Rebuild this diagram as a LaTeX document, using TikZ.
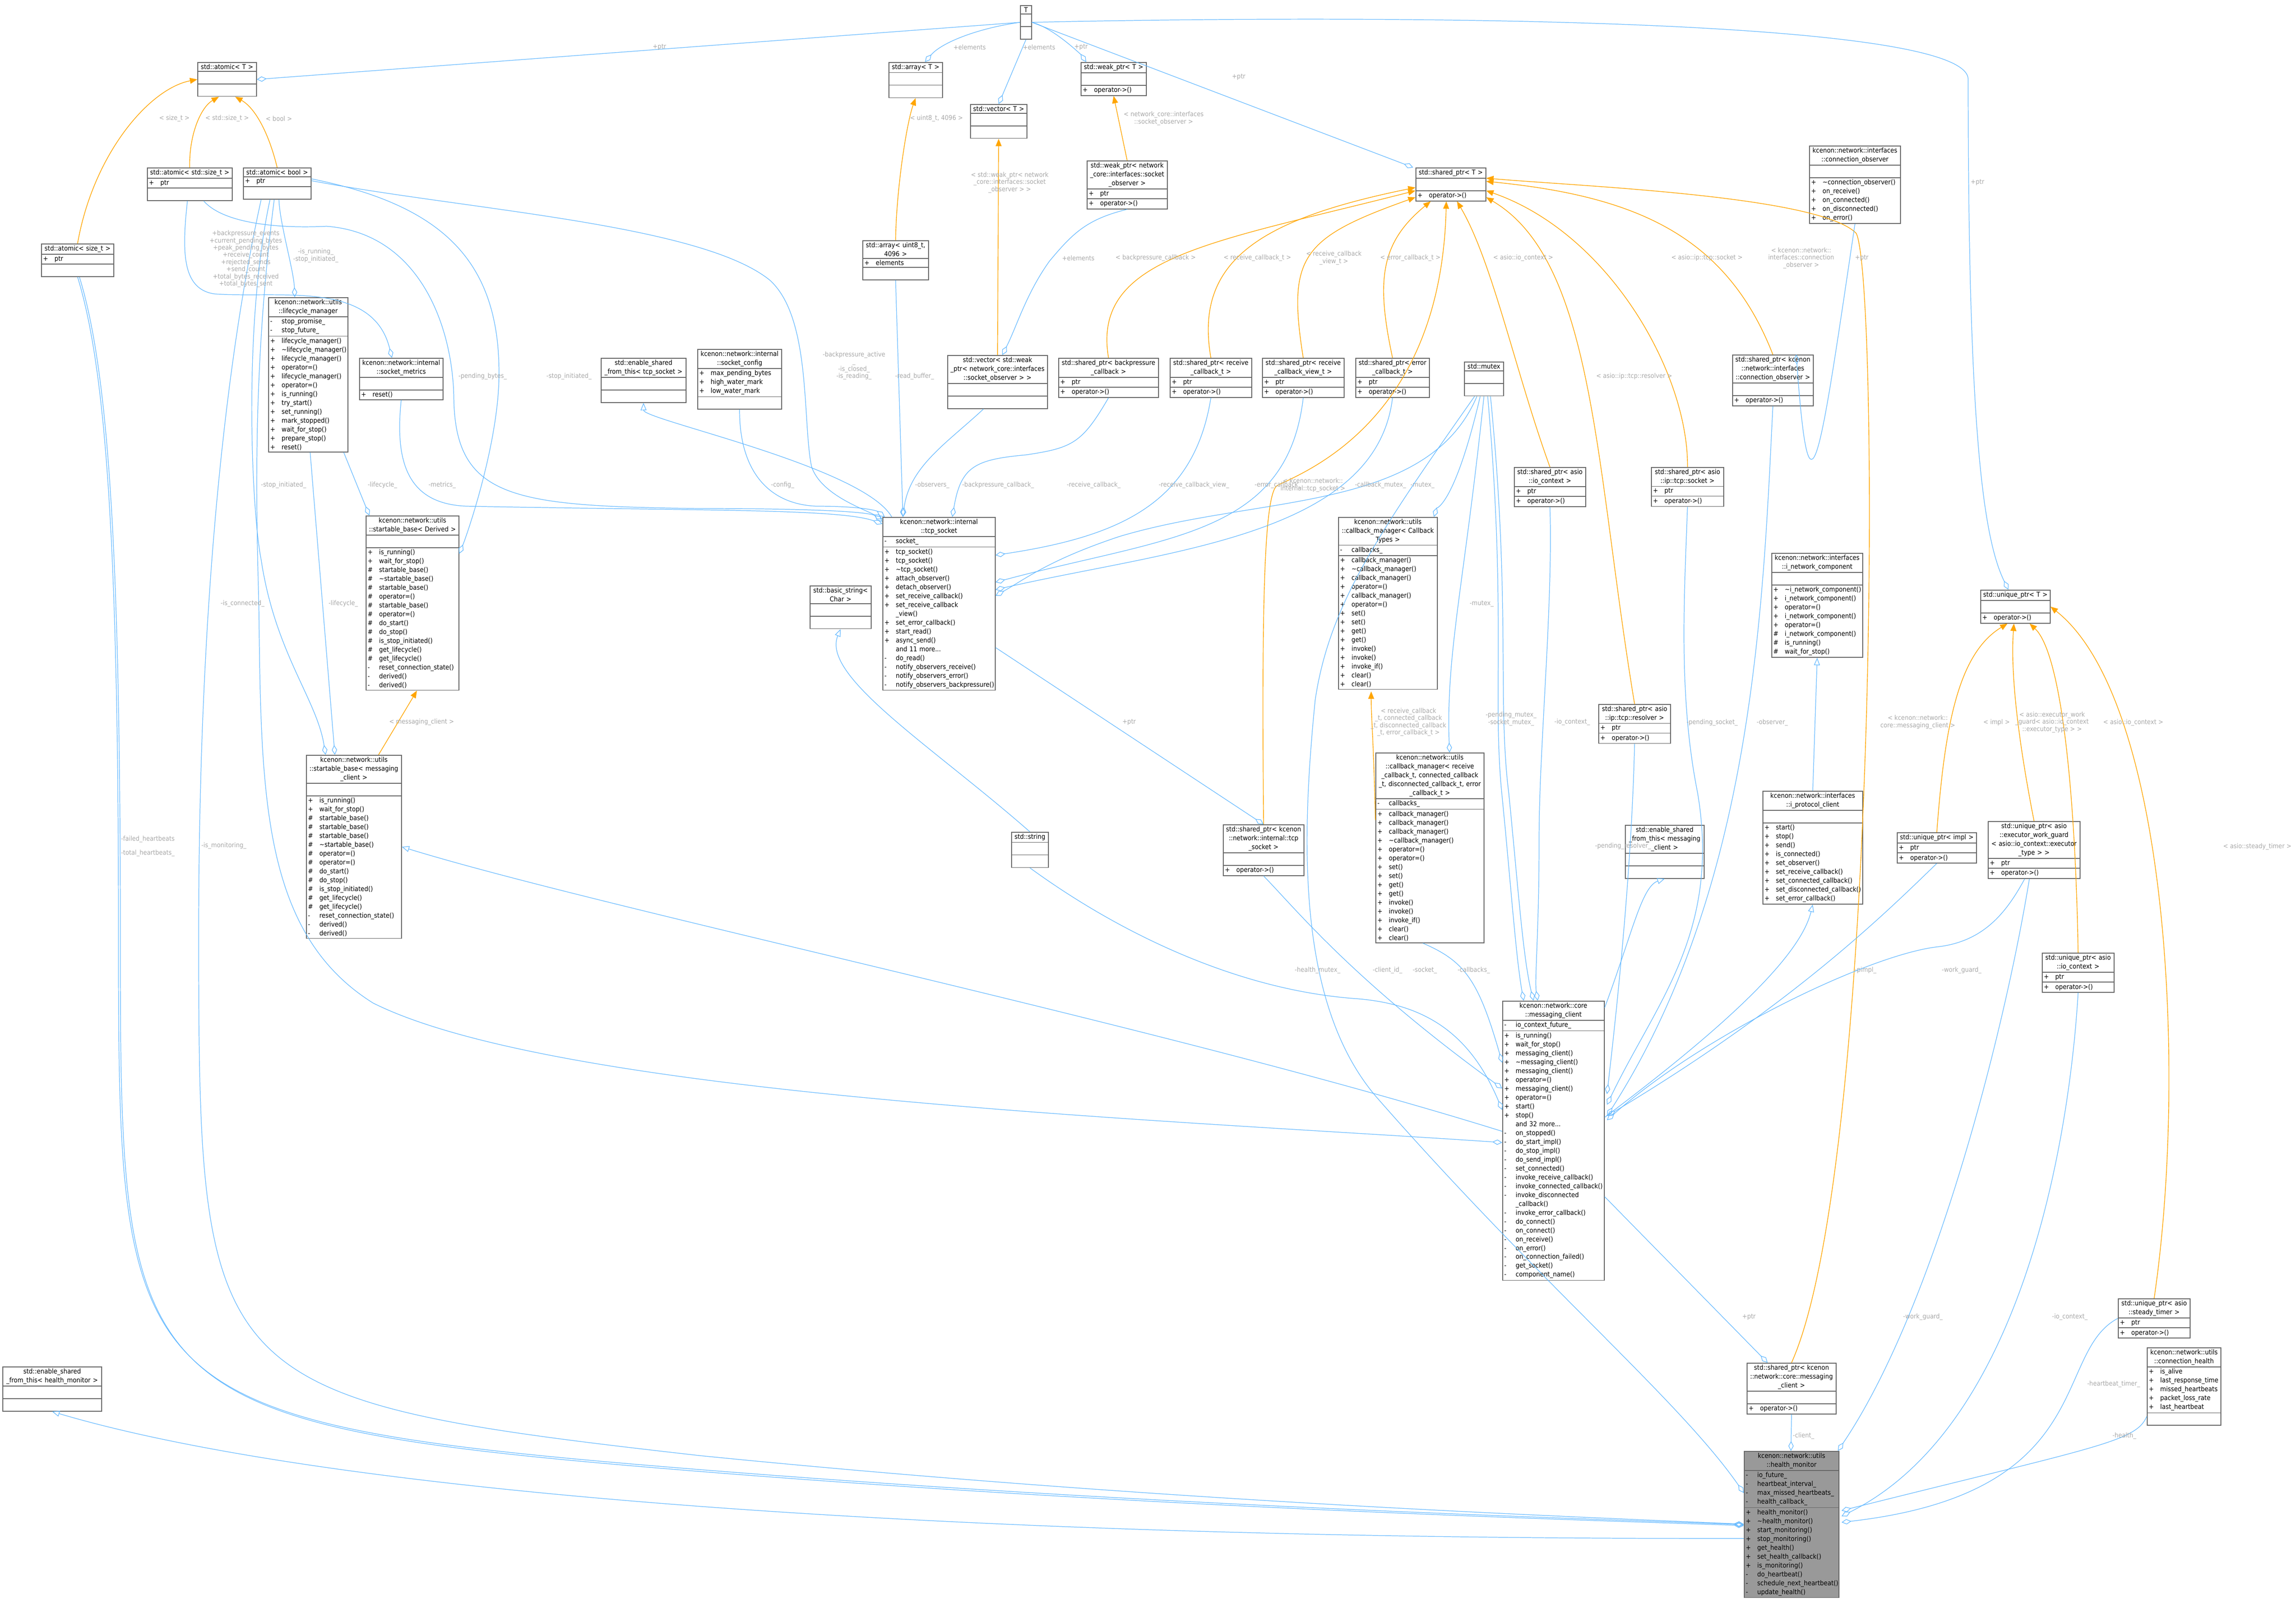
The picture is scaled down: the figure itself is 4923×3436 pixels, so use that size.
\documentclass[tikz,border=0pt]{standalone}
\usepackage{fontspec}
\setmainfont{DejaVu Sans Condensed}
\usetikzlibrary{shapes.multipart,arrows.meta,calc}
\definecolor{edgeb}{HTML}{63B8FF}
\definecolor{orng}{HTML}{FFA500}
\definecolor{boxc}{HTML}{666666}
\definecolor{lblc}{HTML}{A8A8A8}
\definecolor{hmfill}{HTML}{999999}
\newcommand\rw[2]{\mbox{\makebox[7pt][l]{#1}#2}}
\newcommand\tl{\textasciitilde}
\newcommand\lft{\leftskip=0pt\rightskip=0pt plus 1fil\parfillskip=0pt plus 1fil\parindent=0pt\relax}
\newcommand\ctr{\leftskip=0pt plus 1fil\rightskip=0pt plus 1fil\parfillskip=0pt\parindent=0pt\relax}
\newcommand\cls[8][]{%
  \pgfmathsetlengthmacro\clsw{#5*0.01cm-2pt}%
  \node[cls,#1,text width=\clsw] (#2) at (#3,#4) {\ctr #6\par\nodepart{second}\lft #7\par\nodepart{third}\lft #8\par};}
\begin{document}
\begin{tikzpicture}[x=0.01cm,y=-0.01cm,
  cls/.style={rectangle split, rectangle split parts=3, draw=boxc, line width=0.45pt, fill=white,
    inner xsep=1pt, inner ysep=0.9pt, anchor=north west,
    font=\fontsize{4.1}{5.4}\selectfont},
  agg/.style={draw=edgeb, line width=0.35pt, -{Diamond[open,length=6pt,width=3.2pt]}},
  inh/.style={draw=edgeb, line width=0.35pt, -{Triangle[open,length=4.5pt,width=3.6pt]}},
  tpl/.style={draw=orng, line width=0.4pt, -{Triangle[length=4.5pt,width=3.6pt]}},
  lbl/.style={text=lblc, font=\fontsize{4}{4.4}\selectfont, align=center, inner sep=0pt}]
\useasboundingbox (0,0) rectangle (4923,3436);

% ---------------- nodes ----------------
\cls{Tn}{2187}{11}{24}{T}{\strut}{\strut}
\cls{atomT}{423}{133}{126}{std::atomic< T >}{\strut}{\strut}
\cls{atomSz}{315}{359}{182}{std::atomic< std::size\_t >}{\rw{+}{ptr}}{\strut}
\cls{atomB}{521}{359}{145}{std::atomic< bool >}{\rw{+}{ptr}}{\strut}
\cls{atomS}{88}{522}{155}{std::atomic< size\_t >}{\rw{+}{ptr}}{\strut}
\cls{lcm}{575}{637}{170}{kcenon::network::utils\\::lifecycle\_manager}{\rw{-}{stop\_promise\_}\\\rw{-}{stop\_future\_}}{\rw{+}{lifecycle\_manager()}\\\rw{+}{\tl lifecycle\_manager()}\\\rw{+}{lifecycle\_manager()}\\\rw{+}{operator=()}\\\rw{+}{lifecycle\_manager()}\\\rw{+}{operator=()}\\\rw{+}{is\_running()}\\\rw{+}{try\_start()}\\\rw{+}{set\_running()}\\\rw{+}{mark\_stopped()}\\\rw{+}{wait\_for\_stop()}\\\rw{+}{prepare\_stop()}\\\rw{+}{reset()}}
\cls{smet}{770}{767}{179}{kcenon::network::internal\\::socket\_metrics}{\strut}{\rw{+}{reset()}}
\cls{sbD}{784}{1105}{199}{kcenon::network::utils\\::startable\_base< Derived >}{\strut}{\rw{+}{is\_running()}\\\rw{+}{wait\_for\_stop()}\\\rw{\#}{startable\_base()}\\\rw{\#}{\tl startable\_base()}\\\rw{\#}{startable\_base()}\\\rw{\#}{operator=()}\\\rw{\#}{startable\_base()}\\\rw{\#}{operator=()}\\\rw{\#}{do\_start()}\\\rw{\#}{do\_stop()}\\\rw{\#}{is\_stop\_initiated()}\\\rw{\#}{get\_lifecycle()}\\\rw{\#}{get\_lifecycle()}\\\rw{-}{reset\_connection\_state()}\\\rw{-}{derived()}\\\rw{-}{derived()}}
\cls{smc}{656}{1618}{204}{kcenon::network::utils\\::startable\_base< messaging\\\_client >}{\strut}{\rw{+}{is\_running()}\\\rw{+}{wait\_for\_stop()}\\\rw{\#}{startable\_base()}\\\rw{\#}{startable\_base()}\\\rw{\#}{startable\_base()}\\\rw{\#}{\tl startable\_base()}\\\rw{\#}{operator=()}\\\rw{\#}{operator=()}\\\rw{\#}{do\_start()}\\\rw{\#}{do\_stop()}\\\rw{\#}{is\_stop\_initiated()}\\\rw{\#}{get\_lifecycle()}\\\rw{\#}{get\_lifecycle()}\\\rw{-}{reset\_connection\_state()}\\\rw{-}{derived()}\\\rw{-}{derived()}}
\cls{esTcp}{1288}{767}{182}{std::enable\_shared\\\_from\_this< tcp\_socket >}{\strut}{\strut}
\cls{sconf}{1495}{748}{180}{kcenon::network::internal\\::socket\_config}{\rw{+}{max\_pending\_bytes}\\\rw{+}{high\_water\_mark}\\\rw{+}{low\_water\_mark}}{\strut}
\cls{arrT}{1905}{133}{115}{std::array< T >}{\strut}{\strut}
\cls{vecT}{2080}{223}{121}{std::vector< T >}{\strut}{\strut}
\cls{arrU}{1849}{515}{141}{std::array< uint8\_t,\\4096 >}{\rw{+}{elements}}{\strut}
\cls{vecW}{2031}{761}{214}{std::vector< std::weak\\\_ptr< network\_core::interfaces\\::socket\_observer > >}{\strut}{\strut}
\cls{wpT}{2317}{133}{140}{std::weak\_ptr< T >}{\strut}{\rw{+}{operator->()}}
\cls{wpS}{2330}{344}{172}{std::weak\_ptr< network\\\_core::interfaces::socket\\\_observer >}{\rw{+}{ptr}}{\rw{+}{operator->()}}
\cls{spT}{3035}{359}{150}{std::shared\_ptr< T >}{\strut}{\rw{+}{operator->()}}
\cls{spBp}{2269}{767}{214}{std::shared\_ptr< backpressure\\\_callback >}{\rw{+}{ptr}}{\rw{+}{operator->()}}
\cls{spRc}{2508}{767}{175}{std::shared\_ptr< receive\\\_callback\_t >}{\rw{+}{ptr}}{\rw{+}{operator->()}}
\cls{spRv}{2706}{767}{175}{std::shared\_ptr< receive\\\_callback\_view\_t >}{\rw{+}{ptr}}{\rw{+}{operator->()}}
\cls{spEc}{2906}{767}{158}{std::shared\_ptr< error\\\_callback\_t >}{\rw{+}{ptr}}{\rw{+}{operator->()}}
\cls{mtx}{3139}{775}{84}{std::mutex}{\strut}{\strut}
\cls{cobs}{3879}{312}{195}{kcenon::network::interfaces\\::connection\_observer}{\strut}{\rw{+}{\tl connection\_observer()}\\\rw{+}{on\_receive()}\\\rw{+}{on\_connected()}\\\rw{+}{on\_disconnected()}\\\rw{+}{on\_error()}}
\cls{spCo}{3714}{760}{173}{std::shared\_ptr< kcenon\\::network::interfaces\\::connection\_observer >}{\strut}{\rw{+}{operator->()}}
\cls{spIo}{3246}{1001}{153}{std::shared\_ptr< asio\\::io\_context >}{\rw{+}{ptr}}{\rw{+}{operator->()}}
\cls{spSk}{3540}{1001}{155}{std::shared\_ptr< asio\\::ip::tcp::socket >}{\rw{+}{ptr}}{\rw{+}{operator->()}}
\cls{tcp}{1892}{1108}{241}{kcenon::network::internal\\::tcp\_socket}{\rw{-}{socket\_}}{\rw{+}{tcp\_socket()}\\\rw{+}{tcp\_socket()}\\\rw{+}{\tl tcp\_socket()}\\\rw{+}{attach\_observer()}\\\rw{+}{detach\_observer()}\\\rw{+}{set\_receive\_callback()}\\\rw{+}{set\_receive\_callback}\\\rw{}{\_view()}\\\rw{+}{set\_error\_callback()}\\\rw{+}{start\_read()}\\\rw{+}{async\_send()}\\\rw{}{and 11 more...}\\\rw{-}{do\_read()}\\\rw{-}{notify\_observers\_receive()}\\\rw{-}{notify\_observers\_error()}\\\rw{-}{notify\_observers\_backpressure()}}
\cls{bstr}{1736}{1255}{131}{std::basic\_string<\\Char >}{\strut}{\strut}
\cls{cbmT}{2869}{1108}{212}{kcenon::network::utils\\::callback\_manager< Callback\\Types >}{\rw{-}{callbacks\_}}{\rw{+}{callback\_manager()}\\\rw{+}{\tl callback\_manager()}\\\rw{+}{callback\_manager()}\\\rw{+}{operator=()}\\\rw{+}{callback\_manager()}\\\rw{+}{operator=()}\\\rw{+}{set()}\\\rw{+}{set()}\\\rw{+}{get()}\\\rw{+}{get()}\\\rw{+}{invoke()}\\\rw{+}{invoke()}\\\rw{+}{invoke\_if()}\\\rw{+}{clear()}\\\rw{+}{clear()}}
\cls{cbmR}{2949}{1613}{232}{kcenon::network::utils\\::callback\_manager< receive\\\_callback\_t, connected\_callback\\\_t, disconnected\_callback\_t, error\\\_callback\_t >}{\rw{-}{callbacks\_}}{\rw{+}{callback\_manager()}\\\rw{+}{callback\_manager()}\\\rw{+}{callback\_manager()}\\\rw{+}{\tl callback\_manager()}\\\rw{+}{operator=()}\\\rw{+}{operator=()}\\\rw{+}{set()}\\\rw{+}{set()}\\\rw{+}{get()}\\\rw{+}{get()}\\\rw{+}{invoke()}\\\rw{+}{invoke()}\\\rw{+}{invoke\_if()}\\\rw{+}{clear()}\\\rw{+}{clear()}}
\cls{str}{2168}{1783}{79}{std::string}{\strut}{\strut}
\cls{spTcp}{2622}{1767}{173}{std::shared\_ptr< kcenon\\::network::internal::tcp\\\_socket >}{\strut}{\rw{+}{operator->()}}
\cls{spRs}{3427}{1509}{154}{std::shared\_ptr< asio\\::ip::tcp::resolver >}{\rw{+}{ptr}}{\rw{+}{operator->()}}
\cls{inc}{3798}{1185}{195}{kcenon::network::interfaces\\::i\_network\_component}{\strut}{\rw{+}{\tl i\_network\_component()}\\\rw{+}{i\_network\_component()}\\\rw{+}{operator=()}\\\rw{+}{i\_network\_component()}\\\rw{+}{operator=()}\\\rw{\#}{i\_network\_component()}\\\rw{\#}{is\_running()}\\\rw{\#}{wait\_for\_stop()}}
\cls{esMc}{3484}{1768}{169}{std::enable\_shared\\\_from\_this< messaging\\\_client >}{\strut}{\strut}
\cls{ipc}{3779}{1695}{214}{kcenon::network::interfaces\\::i\_protocol\_client}{\strut}{\rw{+}{start()}\\\rw{+}{stop()}\\\rw{+}{send()}\\\rw{+}{is\_connected()}\\\rw{+}{set\_observer()}\\\rw{+}{set\_receive\_callback()}\\\rw{+}{set\_connected\_callback()}\\\rw{+}{set\_disconnected\_callback()}\\\rw{+}{set\_error\_callback()}}
\cls{upT}{4246}{1264}{149}{std::unique\_ptr< T >}{\strut}{\rw{+}{operator->()}}
\cls{upImpl}{4067}{1784}{170}{std::unique\_ptr< impl >}{\rw{+}{ptr}}{\rw{+}{operator->()}}
\cls{upWg}{4262}{1760}{197}{std::unique\_ptr< asio\\::executor\_work\_guard\\< asio::io\_context::executor\\\_type > >}{\rw{+}{ptr}}{\rw{+}{operator->()}}
\cls{upIo}{4378}{2042}{154}{std::unique\_ptr< asio\\::io\_context >}{\rw{+}{ptr}}{\rw{+}{operator->()}}
\cls{mc}{3221}{2145}{218}{kcenon::network::core\\::messaging\_client}{\rw{-}{io\_context\_future\_}}{\rw{+}{is\_running()}\\\rw{+}{wait\_for\_stop()}\\\rw{+}{messaging\_client()}\\\rw{+}{\tl messaging\_client()}\\\rw{+}{messaging\_client()}\\\rw{+}{operator=()}\\\rw{+}{messaging\_client()}\\\rw{+}{operator=()}\\\rw{+}{start()}\\\rw{+}{stop()}\\\rw{}{and 32 more...}\\\rw{-}{on\_stopped()}\\\rw{-}{do\_start\_impl()}\\\rw{-}{do\_stop\_impl()}\\\rw{-}{do\_send\_impl()}\\\rw{-}{set\_connected()}\\\rw{-}{invoke\_receive\_callback()}\\\rw{-}{invoke\_connected\_callback()}\\\rw{-}{invoke\_disconnected}\\\rw{}{\_callback()}\\\rw{-}{invoke\_error\_callback()}\\\rw{-}{do\_connect()}\\\rw{-}{on\_connect()}\\\rw{-}{on\_receive()}\\\rw{-}{on\_error()}\\\rw{-}{on\_connection\_failed()}\\\rw{-}{get\_socket()}\\\rw{-}{component\_name()}}
\cls{spMc}{3745}{2921}{191}{std::shared\_ptr< kcenon\\::network::core::messaging\\\_client >}{\strut}{\rw{+}{operator->()}}
\cls[fill=hmfill]{hm}{3739}{3110}{203}{kcenon::network::utils\\::health\_monitor}{\rw{-}{io\_future\_}\\\rw{-}{heartbeat\_interval\_}\\\rw{-}{max\_missed\_heartbeats\_}\\\rw{-}{health\_callback\_}}{\rw{+}{health\_monitor()}\\\rw{+}{\tl health\_monitor()}\\\rw{+}{start\_monitoring()}\\\rw{+}{stop\_monitoring()}\\\rw{+}{get\_health()}\\\rw{+}{set\_health\_callback()}\\\rw{+}{is\_monitoring()}\\\rw{-}{do\_heartbeat()}\\\rw{-}{schedule\_next\_heartbeat()}\\\rw{-}{update\_health()}}
\cls{upSt}{4541}{2783}{154}{std::unique\_ptr< asio\\::steady\_timer >}{\rw{+}{ptr}}{\rw{+}{operator->()}}
\cls{chl}{4603}{2888}{158}{kcenon::network::utils\\::connection\_health}{\rw{+}{is\_alive}\\\rw{+}{last\_response\_time}\\\rw{+}{missed\_heartbeats}\\\rw{+}{packet\_loss\_rate}\\\rw{+}{last\_heartbeat}}{\strut}
\cls{esHm}{5}{2929}{212}{std::enable\_shared\\\_from\_this< health\_monitor >}{\strut}{\strut}

% ---------------- template instantiation (orange) ----------------
\draw[tpl] (atomS.north) .. controls (200,330) and (320,190) .. (atomT.west);
\draw[tpl] (atomSz.north) .. controls (405,290) and (430,230) .. (atomT.245);
\draw[tpl] (atomB.north) .. controls (575,280) and (545,230) .. (atomT.295);
\draw[tpl] (arrU.north) .. controls (1922,400) and (1945,260) .. (arrT.south);
\draw[tpl] (vecW.north) -- (vecT.south);
\draw[tpl] (wpS.north) -- (wpT.south);
\draw[tpl] (spBp.north) .. controls (2340,550) and (2600,520) .. (spT.190);
\draw[tpl] (spRc.north) .. controls (2560,560) and (2700,470) .. (spT.185);
\draw[tpl] (spRv.north) .. controls (2760,550) and (2790,510) .. (spT.200);
\draw[tpl] (spEc.north) .. controls (2950,600) and (2960,520) .. (spT.220);
\draw[tpl] (spTcp.north) .. controls (2705,1300) and (2710,1050) .. (2740,1040) .. controls (2800,1010) and (3090,900) .. (spT.255);
\draw[tpl] (spIo.north) .. controls (3250,800) and (3200,560) .. (spT.290);
\draw[tpl] (spRs.north) .. controls (3420,1000) and (3420,560) .. (spT.340);
\draw[tpl] (spSk.north) .. controls (3620,800) and (3450,500) .. (spT.350);
\draw[tpl] (spCo.north) .. controls (3700,500) and (3500,420) .. (spT.5);
\draw[tpl] (spMc.north) .. controls (4030,2500) and (4030,600) .. (3980,500) .. controls (3900,420) and (3400,400) .. (spT.10);
\draw[tpl] (upImpl.north) .. controls (4170,1550) and (4200,1400) .. (upT.245);
\draw[tpl] (upWg.north) .. controls (4330,1600) and (4310,1450) .. (upT.265);
\draw[tpl] (upIo.north) .. controls (4450,1700) and (4420,1400) .. (upT.310);
\draw[tpl] (upSt.north) .. controls (4690,2300) and (4650,1500) .. (upT.east);
\draw[tpl] (cbmR.153) .. controls (2945,1580) and (2940,1540) .. (2940,1482);
\draw[tpl] ($(smc.north east)+(-50,0)$) -- ($(sbD.south west)+(110,0)$);
\node[lbl] (la1) at (374,254) {< size\_t >};
\node[lbl] (la2) at (487,254) {< std::size\_t >};
\node[lbl] (la3) at (598,254) {< bool >};
\node[lbl] (la4) at (2008,254) {< uint8\_t, 4096 >};
\node[lbl] (la5) at (2165,391) {< std::weak\_ptr< network\\\_core::interfaces::socket\\\_observer > >};
\node[lbl] (la6) at (2495,254) {< network\_core::interfaces\\::socket\_observer >};
\node[lbl] (la7) at (2478,553) {< backpressure\_callback >};
\node[lbl] (la8) at (2696,553) {< receive\_callback\_t >};
\node[lbl] (la9) at (2860,553) {< receive\_callback\\\_view\_t >};
\node[lbl] (la10) at (3024,553) {< error\_callback\_t >};
\node[lbl] (la11) at (3266,553) {< asio::io\_context >};
\node[lbl] (la12) at (3660,553) {< asio::ip::tcp::socket >};
\node[lbl] (la13) at (3862,553) {< kcenon::network::\\interfaces::connection\\\_observer >};
\node[lbl] (la14) at (3504,807) {< asio::ip::tcp::resolver >};
\node[lbl] (la15) at (2815,1040) {< kcenon::network::\\internal::tcp\_socket >};
\node[lbl] (la16) at (4112,1548) {< kcenon::network::\\core::messaging\_client >};
\node[lbl] (la17) at (4281,1549) {< impl >};
\node[lbl] (la18) at (4400,1548) {< asio::executor\_work\\\_guard< asio::io\_context\\::executor\_type > >};
\node[lbl] (la19) at (4574,1549) {< asio::io\_context >};
\node[lbl] (la20) at (4840,1815) {< asio::steady\_timer >};
\node[lbl] (la21) at (3020,1548) {< receive\_callback\\\_t, connected\_callback\\\_t, disconnected\_callback\\\_t, error\_callback\_t >};
\node[lbl] (la22) at (904,1548) {< messaging\_client >};

% ---------------- inheritance ----------------
\draw[inh] ($(tcp.north west)+(20,0)$) .. controls (1850,1000) and (1380,900) .. (esTcp.south);
\draw[inh] (str.north) .. controls (2000,1600) and (1760,1450) .. (bstr.south);
\draw[inh] ($(mc.north west)+(0,280)$) .. controls (2500,2200) and (1300,1950) .. (smc.east);
\draw[inh] ($(mc.north east)+(0,15)$) .. controls (3500,2000) and (3520,1900) .. (esMc.south);
\draw[inh] ($(mc.north east)+(0,250)$) .. controls (3700,2200) and (3860,2050) .. (ipc.south);
\draw[inh] (ipc.north) -- (inc.south);
\draw[inh] ($(hm.west)+(0,30)$) .. controls (2000,3300) and (700,3200) .. (esHm.south);

% ---------------- aggregation (blue) ----------------
\draw[agg] (Tn.west) -- (atomT.east);
\draw[agg] (Tn.west) .. controls (2100,60) and (2020,90) .. ($(arrT.north)+(20,0)$);
\draw[agg] (Tn.south) -- (vecT.north);
\draw[agg] (Tn.east) .. controls (2260,60) and (2320,120) .. ($(wpT.north west)+(12,0)$);
\draw[agg] (Tn.east) -- ($(spT.north west)+(-5,0)$);
\draw[agg] (Tn.east) .. controls (3000,30) and (4220,40) .. (4220,170) .. controls (4220,900) and (4250,1150) .. ($(upT.north)+(-15,0)$);
\node[lbl] (lb1) at (1414,101) {+ptr};
\node[lbl] (lb2) at (2079,101) {+elements};
\node[lbl] (lb3) at (2228,101) {+elements};
\node[lbl] (lb4) at (2318,101) {+ptr};
\node[lbl] (lb5) at (2656,165) {+ptr};
\node[lbl] (lb6) at (4240,391) {+ptr};

\draw[agg] (atomS.south) .. controls (230,800) and (254,1200) .. (254,2000) .. controls (254,3000) and (260,3050) .. (1500,3150) .. controls (2500,3230) and (3400,3255) .. ($(hm.north west)+(0,158)$);
\draw[agg] ($(atomS.south)+(4,0)$) .. controls (234,800) and (258,1200) .. (258,2000) .. controls (258,3004) and (264,3054) .. (1500,3154) .. controls (2500,3234) and (3400,3258) .. ($(hm.north west)+(0,160)$);
\node[lbl] (lb7) at (317,1799) {-failed\_heartbeats};
\node[lbl] (lb7b) at (317,1829) {-total\_heartbeats\_};
\draw[agg] ($(atomB.south west)+(39,0)$) .. controls (500,700) and (426,1200) .. (426,2000) .. controls (426,2970) and (440,3000) .. (1500,3120) .. controls (2500,3220) and (3400,3252) .. ($(hm.north west)+(0,157)$);
\node[lbl] (lb8) at (480,1813) {-is\_monitoring\_};
\draw[agg] ($(atomB.south west)+(77,0)$) .. controls (600,480) and (630,580) .. ($(lcm.north west)+(57,0)$);
\node[lbl] (lb9) at (677,548) {-is\_running\_\\-stop\_initiated\_};
\draw[agg] ($(atomB.south west)+(58,0)$) .. controls (520,700) and (540,1100) .. (560,1200) .. controls (590,1400) and (680,1500) .. ($(smc.north west)+(42,0)$);
\node[lbl] (lb10) at (608,1040) {-stop\_initiated\_};
\draw[agg] ($(atomB.south west)+(67,0)$) .. controls (540,800) and (550,1100) .. (555,1300) .. controls (560,1700) and (560,2000) .. (800,2150) .. controls (1200,2350) and (2500,2400) .. ($(mc.north west)+(0,304)$);
\node[lbl] (lb11) at (520,1294) {-is\_connected\_};
\draw[agg] ($(atomB.east)+(0,-10)$) .. controls (950,440) and (1070,560) .. (1070,800) .. controls (1070,950) and (1000,1150) .. ($(sbD.north east)+(0,82)$);
\node[lbl] (lb12) at (1220,807) {-stop\_initiated\_};
\draw[agg] ($(atomB.east)+(0,-6)$) .. controls (1000,450) and (1500,480) .. (1650,600) .. controls (1740,680) and (1720,900) .. (1740,1000) .. controls (1760,1060) and (1850,1090) .. ($(tcp.north west)+(0,5)$);
\node[lbl] (lb13) at (1831,784) {-backpressure\_active\\\_\\-is\_closed\_\\-is\_reading\_};
\draw[agg] ($(atomSz.south)+(-5,0)$) .. controls (390,540) and (390,620) .. (460,630) .. controls (600,640) and (800,600) .. ($(smet.north)+(-20,0)$);
\node[lbl] (lb14) at (527,555) {+backpressure\_events\\+current\_pending\_bytes\\+peak\_pending\_bytes\\+receive\_count\\+rejected\_sends\\+send\_count\\+total\_bytes\_received\\+total\_bytes\_sent};
\draw[agg] ($(atomSz.south)+(30,0)$) .. controls (480,480) and (600,490) .. (700,485) .. controls (900,500) and (970,700) .. (973,850) .. controls (975,1070) and (1100,1085) .. (1500,1090) .. controls (1800,1090) and (1870,1100) .. ($(tcp.north west)+(0,10)$);
\node[lbl] (lb15) at (1035,807) {-pending\_bytes\_};
\draw[agg] ($(lcm.south west)+(162,0)$) -- ($(sbD.north west)+(8,0)$);
\node[lbl] (lb16) at (820,1040) {-lifecycle\_};
\draw[agg] ($(lcm.south west)+(90,0)$) -- ($(smc.north west)+(62,0)$);
\node[lbl] (lb17) at (736,1294) {-lifecycle\_};
\draw[agg] (smet.south) .. controls (845,1000) and (880,1080) .. (1000,1085) .. controls (1500,1095) and (1800,1090) .. ($(tcp.north west)+(0,15)$);
\node[lbl] (lb18) at (948,1040) {-metrics\_};
\draw[agg] (sconf.south) .. controls (1585,1000) and (1640,1080) .. (1750,1085) .. controls (1850,1085) and (1880,1095) .. ($(tcp.north west)+(5,0)$);
\node[lbl] (lb19) at (1678,1040) {-config\_};
\draw[agg] (arrU.south) -- ($(tcp.north west)+(44,0)$);
\node[lbl] (lb20) at (1961,807) {-read\_buffer\_};
\draw[agg] ($(vecW.south)+(-30,0)$) .. controls (2030,950) and (1950,1000) .. ($(tcp.north west)+(44,0)$);
\node[lbl] (lb21) at (1999,1040) {-observers\_};
\draw[agg] (spBp.south) .. controls (2320,950) and (2300,960) .. (2200,975) .. controls (2090,985) and (2060,1000) .. ($(tcp.north west)+(150,0)$);
\node[lbl] (lb22) at (2140,1040) {-backpressure\_callback\_};
\draw[agg] (spRc.south) .. controls (2560,1080) and (2400,1150) .. ($(tcp.north east)+(0,82)$);
\node[lbl] (lb23) at (2345,1040) {-receive\_callback\_};
\draw[agg] (spRv.south) .. controls (2760,1150) and (2500,1150) .. ($(tcp.north east)+(0,140)$);
\node[lbl] (lb24) at (2560,1040) {-receive\_callback\_view\_};
\draw[agg] (spEc.south) .. controls (2950,1150) and (2500,1180) .. ($(tcp.north east)+(0,156)$);
\node[lbl] (lb25) at (2740,1040) {-error\_callback\_};
\draw[agg] ($(mtx.south)+(-15,0)$) .. controls (3060,1100) and (2700,1060) .. (2400,1150) .. controls (2250,1200) and (2200,1240) .. ($(tcp.north east)+(0,169)$);
\node[lbl] (lb26) at (2960,1040) {-callback\_mutex\_};
\draw[agg] ($(mtx.south)+(-8,0)$) .. controls (3120,1080) and (3080,1090) .. ($(cbmT.north east)+(-8,0)$);
\node[lbl] (lb27) at (3050,1040) {-mutex\_};
\draw[agg] ($(mtx.south)+(0,0)$) .. controls (3140,1250) and (3100,1400) .. ($(cbmR.north west)+(159,0)$);
\node[lbl] (lb28) at (3177,1294) {-mutex\_};
\draw[agg] ($(mtx.south)+(8,0)$) .. controls (3230,1300) and (3200,1500) .. (3220,1700) .. controls (3240,1900) and (3250,2050) .. ($(mc.north west)+(46,0)$);
\draw[agg] ($(mtx.south)+(14,0)$) .. controls (3240,1300) and (3210,1500) .. (3235,1700) .. controls (3255,1900) and (3265,2050) .. ($(mc.north west)+(67,0)$);
\node[lbl] (lb29) at (3240,1541) {-pending\_mutex\_\\-socket\_mutex\_};
\draw[agg] ($(mtx.south)+(-20,0)$) .. controls (2950,1150) and (2850,1300) .. (2820,1500) .. controls (2790,1800) and (2780,2150) .. (2950,2350) .. controls (3300,2750) and (3600,3000) .. ($(hm.north west)+(0,90)$);
\node[lbl] (lb30) at (2825,2080) {-health\_mutex\_};
\draw[agg] (wpS.south) .. controls (2330,470) and (2300,500) .. (2250,560) .. controls (2200,630) and (2180,700) .. ($(vecW.north west)+(118,0)$);
\node[lbl] (lb31) at (2312,553) {+elements};
\draw[agg] ($(tcp.north east)+(0,280)$) -- (spTcp.north);
\node[lbl] (lb32) at (2421,1548) {+ptr};
\draw[agg] (spTcp.south) .. controls (2780,1950) and (2900,2100) .. ($(mc.north west)+(0,188)$);
\node[lbl] (lb33) at (3055,2080) {-socket\_};
\draw[agg] (str.south) .. controls (2400,2000) and (2650,2120) .. (2900,2140) .. controls (3050,2150) and (3150,2210) .. ($(mc.north west)+(0,234)$);
\node[lbl] (lb34) at (2975,2080) {-client\_id\_};
\draw[agg] ($(cbmR.south)+(-15,0)$) .. controls (3140,2060) and (3170,2100) .. ($(mc.north west)+(0,133)$);
\node[lbl] (lb35) at (3160,2080) {-callbacks\_};
\draw[agg] (spIo.south) .. controls (3330,1300) and (3300,1600) .. (3300,1800) .. controls (3300,2000) and (3290,2100) .. ($(mc.north west)+(76,0)$);
\node[lbl] (lb36) at (3371,1548) {-io\_context\_};
\draw[agg] (spRs.south) .. controls (3500,1800) and (3480,2050) .. ($(mc.north east)+(5,200)$);
\node[lbl] (lb37) at (3480,1814) {-pending\_resolver\_};
\draw[agg] (spSk.south) .. controls (3610,1300) and (3600,1500) .. (3640,1700) .. controls (3690,2000) and (3550,2150) .. ($(mc.north east)+(5,223)$);
\node[lbl] (lb38) at (3671,1549) {-pending\_socket\_};
\draw[agg] (spCo.south) .. controls (3780,1300) and (3760,1900) .. ($(mc.north east)+(5,247)$);
\node[lbl] (lb39) at (3800,1549) {-observer\_};
\draw[agg] (cobs.south) .. controls (3900,1000) and (3880,1150) .. ($(spCo.north)+(50,0)$);
\node[lbl] (lb40) at (3992,553) {+ptr};
\draw[agg] (upImpl.south) .. controls (4050,1950) and (3850,2150) .. ($(mc.north east)+(5,247)$);
\node[lbl] (lb41) at (4000,2080) {-pimpl\_};
\draw[agg] ($(upWg.south)+(-20,0)$) .. controls (4300,1960) and (4250,2020) .. (4150,2030) .. controls (4000,2050) and (3650,2220) .. ($(mc.north east)+(5,256)$);
\node[lbl] (lb42) at (4206,2080) {-work\_guard\_};
\draw[agg] ($(upWg.south)+(-10,0)$) .. controls (4300,2200) and (4150,2800) .. ($(hm.north east)+(-3,0)$);
\node[lbl] (lb43) at (4123,2823) {-work\_guard\_};
\draw[agg] (upIo.south) .. controls (4440,2400) and (4350,3050) .. ($(hm.north east)+(5,140)$);
\node[lbl] (lb44) at (4438,2823) {-io\_context\_};
\draw[agg] (upSt.west) .. controls (4400,2900) and (4500,3200) .. ($(hm.north east)+(5,153)$);
\node[lbl] (lb45) at (4532,2967) {-heartbeat\_timer\_};
\draw[agg] ($(chl.south west)+(0,-20)$) .. controls (4580,3090) and (4500,3100) .. ($(hm.north east)+(5,128)$);
\node[lbl] (lb46) at (4555,3078) {-health\_};
\draw[agg] (spMc.south) -- ($(hm.north west)+(101,0)$);
\node[lbl] (lb47) at (3867,3078) {-client\_};
\draw[agg] ($(mc.north east)+(0,420)$) -- ($(spMc.north west)+(45,0)$);
\node[lbl] (lb48) at (3750,2823) {+ptr};
\end{tikzpicture}
\end{document}
